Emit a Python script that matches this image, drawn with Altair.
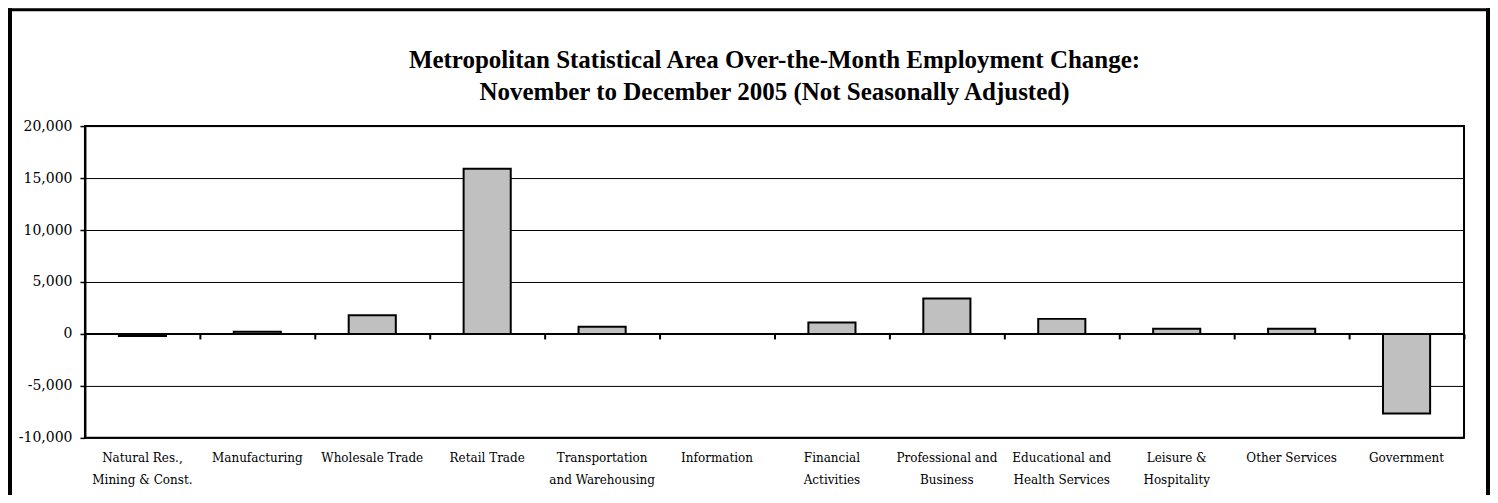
import altair as alt
import pandas as pd

categories = [
    "Natural Res.,|Mining & Const.",
    "Manufacturing",
    "Wholesale Trade",
    "Retail Trade",
    "Transportation|and Warehousing",
    "Information",
    "Financial|Activities",
    "Professional and|Business|Services",
    "Educational and|Health Services",
    "Leisure &|Hospitality",
    "Other Services",
    "Government",
]
values = [-200, 200, 1800, 15900, 700, 0, 1100, 3400, 1450, 500, 500, -7650]
y_ticks = [-10000, -5000, 0, 5000, 10000, 15000, 20000]
title_lines = [
    "Metropolitan Statistical Area Over-the-Month Employment Change:",
    "November to December 2005 (Not Seasonally Adjusted)",
]

df = pd.DataFrame({"category": categories, "change": values})

W, H = 1380, 312
x_scale = alt.Scale(paddingInner=0, paddingOuter=0)
y_scale = alt.Scale(domain=[-10000, 20000], nice=False)

bars = alt.Chart(df).mark_bar(
    width=alt.RelativeBandSize(0.41), fill="#C0C0C0", stroke="black", strokeWidth=2
).encode(
    x=alt.X("category:N", sort=categories, scale=x_scale, title=None,
            axis=alt.Axis(orient="bottom", domain=False, ticks=False, labelAngle=0,
                          labelPadding=15, labelLineHeight=22, labelLimit=0,
                          labelFont="DejaVu Serif", labelFontSize=12, labelColor="black",
                          labelExpr="split(datum.label, '|')")),
    y=alt.Y("change:Q", scale=y_scale, title=None,
            axis=alt.Axis(values=y_ticks,
                          labelExpr="(datum.value < 0 ? '-' : '') + format(abs(datum.value), ',')",
                          grid=True, gridColor="black",
                          gridWidth=1, gridOpacity=1, domainColor="black", domainWidth=2,
                          tickColor="black", tickSize=5, tickWidth=1.5, labelPadding=8,
                          labelFont="DejaVu Serif", labelFontSize=14, labelColor="black")),
)

zero_ticks = alt.Chart(df).mark_point(opacity=0).encode(
    x=alt.X("category:N", sort=categories, scale=x_scale, title=None,
            axis=alt.Axis(orient="bottom", offset=-104, labels=False, domain=False,
                          ticks=True, tickBand="extent", tickSize=5, tickWidth=2,
                          tickColor="black")),
    y=alt.datum(0),
)

zero_line = alt.Chart(pd.DataFrame({"z": [0]})).mark_rule(color="black", strokeWidth=2).encode(
    y=alt.datum(0)
)

frame_df = pd.DataFrame({"f": [0]})
title_text = alt.Chart(frame_df).mark_text(
    font="Liberation Serif", fontSize=25, fontWeight="bold", color="black",
    lineHeight=32, align="center", baseline="alphabetic"
).encode(x=alt.value(W / 2), y=alt.value(-58), text=alt.value(title_lines))

frame_top = alt.Chart(frame_df).mark_rule(color="black", strokeWidth=3).encode(
    x=alt.value(-80), x2=alt.value(1406), y=alt.value(-116.5))
frame_left = alt.Chart(frame_df).mark_rule(color="black", strokeWidth=4).encode(
    x=alt.value(-75), y=alt.value(-118), y2=alt.value(380))
frame_right = alt.Chart(frame_df).mark_rule(color="black", strokeWidth=4).encode(
    x=alt.value(1404), y=alt.value(-118), y2=alt.value(380))

chart = alt.layer(
    bars, zero_ticks, zero_line, title_text, frame_top, frame_left, frame_right
).resolve_axis(
    x="independent"
).properties(
    width=W, height=H,
    background="white",
    autosize=alt.AutoSizeParams(type="none"),
    padding={"left": 77, "top": 118, "right": 26, "bottom": 57},
).configure_view(stroke="black", strokeWidth=2)

chart.save("out.html", embed_options={"renderer": "svg", "actions": False})
